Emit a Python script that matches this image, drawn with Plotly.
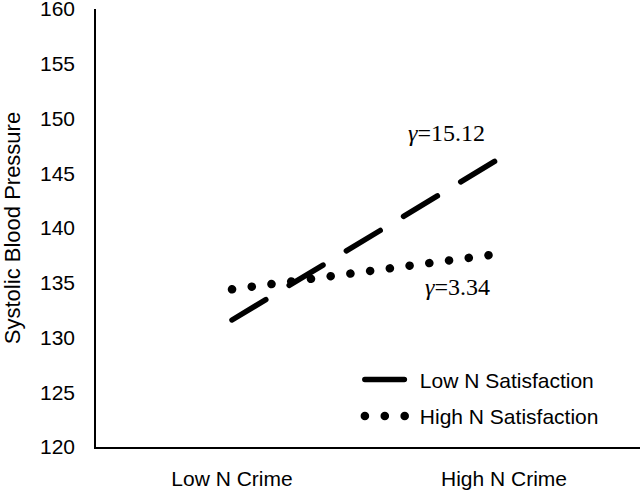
import plotly.graph_objects as go

categories = ["Low N Crime", "High N Crime"]
low_sat = [131.6, 146.6]
high_sat = [134.4, 137.7]
series_names = ["Low N Satisfaction", "High N Satisfaction"]
gamma_labels = ["<i>γ</i>=15.12", "<i>γ</i>=3.34"]
y_ticks = [120, 125, 130, 135, 140, 145, 150, 155, 160]

SANS = "Liberation Sans, Arial, sans-serif"
SERIF = "Liberation Serif, Times New Roman, serif"

fig = go.Figure()
fig.add_trace(go.Scatter(
    x=categories, y=low_sat, mode="lines", name=series_names[0], legendgroup="a",
    line=dict(color="black", width=5.5, dash="39.5px,27.3px"),
))
fig.add_trace(go.Scatter(
    x=categories, y=high_sat, mode="lines", name=series_names[1], legendgroup="b",
    line=dict(color="black", width=8.5, dash="0.1px,19.8px"),
))

fig.add_annotation(text=gamma_labels[0], xref="paper", yref="paper",
                   x=0.645, y=0.716, showarrow=False, xanchor="center", yanchor="middle",
                   font=dict(family=SERIF, size=24, color="black"))
fig.add_annotation(text=gamma_labels[1], xref="paper", yref="paper",
                   x=0.664, y=0.366, showarrow=False, xanchor="center", yanchor="middle",
                   font=dict(family=SERIF, size=24, color="black"))

fig.update_layout(
    width=640, height=492,
    margin=dict(l=96, r=0, t=9, b=45, pad=0),
    paper_bgcolor="white", plot_bgcolor="white",
    font=dict(family=SANS, size=21, color="black"),
    showlegend=True,
    legend=dict(x=0.485, y=0.112, xanchor="left", yanchor="middle",
                bgcolor="rgba(0,0,0,0)", font=dict(family=SANS, size=21, color="black"),
                itemwidth=50, traceorder="grouped", tracegroupgap=6),
    xaxis=dict(type="category", range=[-0.5, 1.5], showgrid=False, zeroline=False,
               showline=True, linecolor="black", linewidth=1.5, ticks="",
               tickfont=dict(family=SANS, size=21, color="black"),
               ticklabelstandoff=12, automargin=False, ticklabeloverflow="allow"),
    yaxis=dict(range=[120, 160], tickvals=y_ticks, showgrid=False, zeroline=False,
               showline=True, linecolor="black", linewidth=1.5, ticks="",
               tickfont=dict(family=SANS, size=21, color="black"),
               ticklabelstandoff=15, automargin=False, ticklabeloverflow="allow",
               title=dict(text="Systolic Blood Pressure", standoff=17,
                          font=dict(family=SANS, size=22, color="black"))),
)

post = """
document.body.style.margin = '0';
document.body.style.padding = '0';
document.querySelectorAll('path.js-line').forEach(function(p){
  p.style.strokeLinecap = 'round';
});
"""
fig.write_html("out.html", post_script=post, config={"displayModeBar": False})
